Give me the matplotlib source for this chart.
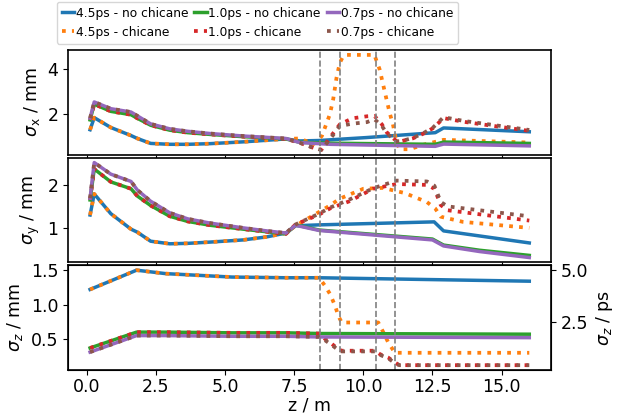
import numpy as np
import matplotlib
matplotlib.use("Agg")
import matplotlib.pyplot as plt

# ---- data ----
chicane_edges = [8.42, 9.14, 10.45, 11.15]

# common z grid before the chicane (sigma_x, sigma_y)
z_pre = [0.12, 0.27, 0.87, 1.6, 1.83, 2.31, 3.0, 3.65, 4.47, 5.66, 6.5, 7.2]

# sigma_x / mm
sx_45_pre = [1.28, 1.82, 1.38, 1.02, 0.89, 0.67, 0.63, 0.63, 0.66, 0.74, 0.81, 0.87]
sx_10_pre = [1.72, 2.42, 2.10, 1.95, 1.79, 1.48, 1.26, 1.15, 1.07, 0.97, 0.92, 0.87]
sx_07_pre = [1.80, 2.52, 2.22, 2.07, 1.90, 1.54, 1.32, 1.21, 1.11, 1.00, 0.94, 0.89]
zx_45 = [7.7, 8.4, 10.1, 12.6, 12.9, 16.0]
sx_45 = [0.78, 0.80, 0.93, 1.15, 1.36, 1.19]
zx_lo = [7.7, 8.8, 12.6, 12.9, 16.0]
sx_10 = [0.72, 0.68, 0.63, 0.73, 0.67]
sx_07 = [0.71, 0.63, 0.54, 0.64, 0.56]
zxc_45 = [7.7, 8.2, 8.5, 8.79, 8.91, 9.03, 9.15, 9.27, 9.4, 10.4, 10.59, 10.77,
          10.95, 11.07, 11.19, 11.31, 11.67, 12.2, 12.9, 16.0]
sxc_45 = [0.89, 0.64, 1.0, 1.97, 2.64, 3.6, 4.27, 4.56, 4.62, 4.62, 3.97, 3.0,
          2.04, 1.52, 0.78, 0.41, 0.41, 0.62, 0.83, 0.71]
zxc_lo = [7.7, 8.2, 8.48, 8.79, 9.15, 9.6, 10.13, 10.4, 10.67, 10.85, 11.19, 11.4,
          11.8, 12.16, 12.52, 12.9, 13.6, 16.0]
sxc_10 = [0.70, 0.47, 0.38, 0.93, 1.52, 1.79, 1.88, 1.90, 1.52, 1.16, 0.78, 0.78,
          0.90, 1.10, 1.35, 1.80, 1.64, 1.23]
sxc_07 = [0.70, 0.47, 0.38, 0.85, 1.45, 1.55, 1.62, 1.75, 1.45, 1.12, 0.76, 0.78,
          0.92, 1.12, 1.38, 1.84, 1.68, 1.27]

# sigma_y / mm
sy_45_pre = [1.30, 1.79, 1.33, 0.97, 0.90, 0.69, 0.63, 0.64, 0.67, 0.72, 0.79, 0.88]
sy_10_pre = [1.65, 2.37, 2.07, 1.91, 1.74, 1.52, 1.27, 1.15, 1.06, 0.97, 0.91, 0.86]
sy_07_pre = [1.69, 2.52, 2.25, 2.08, 1.88, 1.62, 1.35, 1.21, 1.11, 1.00, 0.93, 0.88]
zy_45 = [7.55, 8.4, 12.56, 12.9, 16.0]
sy_45 = [1.05, 1.07, 1.14, 0.93, 0.65]
zy_lo = [7.55, 8.4, 12.5, 12.9, 14.2, 16.0]
sy_10 = [1.07, 0.95, 0.74, 0.60, 0.48, 0.36]
sy_07 = [1.06, 0.94, 0.72, 0.58, 0.45, 0.31]
zyc_45 = [7.55, 8.4, 8.79, 9.15, 10.0, 10.7, 11.5, 12.3, 12.6, 12.8, 13.6, 16.0]
syc_45 = [1.05, 1.37, 1.52, 1.68, 1.91, 1.93, 1.81, 1.60, 1.45, 1.26, 1.14, 1.0]
zyc_lo = [7.55, 8.4, 8.79, 9.5, 10.35, 11.2, 12.3, 12.57, 12.8, 13.05, 16.0]
syc_10 = [1.08, 1.31, 1.45, 1.62, 1.91, 2.02, 2.0, 1.91, 1.53, 1.41, 1.17]
syc_07 = [1.08, 1.33, 1.47, 1.66, 1.92, 2.10, 2.08, 1.98, 1.60, 1.50, 1.27]

# sigma_z / mm
z_pre_z = [0.12, 1.8, 2.85, 5.25, 7.2]
sz_45_pre = [1.22, 1.50, 1.45, 1.40, 1.39]
sz_10_pre = [0.37, 0.60, 0.60, 0.59, 0.59]
sz_07_pre = [0.31, 0.55, 0.55, 0.54, 0.54]
zz_end = [8.4, 16.0]
sz_45 = [1.39, 1.34]
sz_10 = [0.58, 0.57]
sz_07 = [0.53, 0.52]
zzc_45 = [8.4, 8.62, 8.8, 8.98, 9.1, 9.22, 10.54, 10.72, 10.9, 11.14, 16.0]
szc_45 = [1.39, 1.27, 1.15, 0.98, 0.83, 0.74, 0.74, 0.60, 0.45, 0.30, 0.30]
zzc_lo = [8.4, 8.62, 8.8, 9.1, 9.22, 10.42, 10.6, 10.9, 11.14, 11.3, 16.0]
szc_10 = [0.58, 0.50, 0.45, 0.35, 0.33, 0.33, 0.28, 0.23, 0.16, 0.12, 0.12]
szc_07 = [0.53, 0.48, 0.43, 0.34, 0.32, 0.32, 0.27, 0.22, 0.15, 0.12, 0.12]

labels = ["4.5ps - no chicane", "4.5ps - chicane",
          "1.0ps - no chicane", "1.0ps - chicane",
          "0.7ps - no chicane", "0.7ps - chicane"]
mm_to_ps = 3.3356

plt.rcParams['font.size'] = 12.5

fig, axes = plt.subplots(3, 1, sharex=True, figsize=(6.25, 4.18), dpi=100)
fig.subplots_adjust(left=0.109, right=0.882, top=0.880, bottom=0.115, hspace=0.03)

panels = [
    (z_pre, [sx_45_pre, sx_10_pre, sx_07_pre],
     [(zx_45, sx_45), (zx_lo, sx_10), (zx_lo, sx_07)],
     [(zxc_45, sxc_45), (zxc_lo, sxc_10), (zxc_lo, sxc_07)]),
    (z_pre, [sy_45_pre, sy_10_pre, sy_07_pre],
     [(zy_45, sy_45), (zy_lo, sy_10), (zy_lo, sy_07)],
     [(zyc_45, syc_45), (zyc_lo, syc_10), (zyc_lo, syc_07)]),
    (z_pre_z, [sz_45_pre, sz_10_pre, sz_07_pre],
     [(zz_end, sz_45), (zz_end, sz_10), (zz_end, sz_07)],
     [(zzc_45, szc_45), (zzc_lo, szc_10), (zzc_lo, szc_07)]),
]

for ax, (zp, pre, post, chic) in zip(axes, panels):
    for k in range(3):
        zs = np.concatenate([zp, post[k][0]])
        ys = np.concatenate([pre[k], post[k][1]])
        zc = np.concatenate([zp, chic[k][0]])
        yc = np.concatenate([pre[k], chic[k][1]])
        ax.plot(zs, ys, color='C%d' % (2 * k), lw=2.5, label=labels[2 * k])
        ax.plot(zc, yc, color='C%d' % (2 * k + 1), lw=2.7, ls=':', label=labels[2 * k + 1])
    for xe in chicane_edges:
        ax.axvline(xe, color='grey', ls='--', lw=1.2)
    for s in ax.spines.values():
        s.set_linewidth(1.2)

axes[0].set_ylabel(r'$\sigma_\mathrm{x}$ / mm')
axes[1].set_ylabel(r'$\sigma_\mathrm{y}$ / mm')
axes[2].set_ylabel(r'$\sigma_z$ / mm')
axes[0].set_yticks([2, 4])
axes[1].set_yticks([1, 2])
axes[2].set_yticks([0.5, 1.0, 1.5])
axes[2].set_xticks([0, 2.5, 5, 7.5, 10, 12.5, 15])
axes[2].set_xticklabels(['0.0', '2.5', '5.0', '7.5', '10.0', '12.5', '15.0'])
axes[2].tick_params(axis='x', pad=2.5)
axes[2].set_xlabel('z / m', labelpad=0.5)

axr = axes[2].twinx()
lo, hi = axes[2].get_ylim()
axr.set_ylim(lo * mm_to_ps, hi * mm_to_ps)
axr.set_yticks([2.5, 5.0])
axr.set_ylabel(r'$\sigma_z$ / ps')

h, l = axes[0].get_legend_handles_labels()
fig.legend(h, l, ncol=3, loc='upper left', bbox_to_anchor=(0.091, 0.996),
           fontsize=8.8, handlelength=1.0, handletextpad=0.15, columnspacing=0.5,
           borderaxespad=0)

fig.savefig('out.png', dpi=100)
